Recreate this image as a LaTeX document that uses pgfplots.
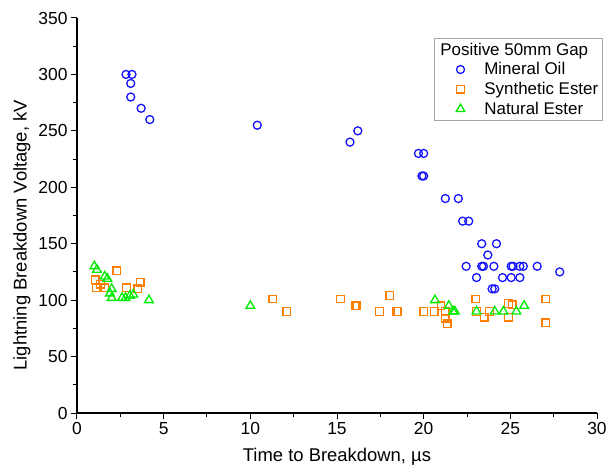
\documentclass[border=0pt]{standalone}
\usepackage{fontspec}
\setmainfont{Liberation Sans}
\usepackage{pgfplots}
\pgfplotsset{compat=1.18}
\definecolor{mblue}{RGB}{20,20,255}
\definecolor{sorange}{RGB}{255,128,0}
\definecolor{ngreen}{RGB}{0,235,0}
\begin{document}
\begin{tikzpicture}
\useasboundingbox (-77bp,-55bp) rectangle (531bp,413bp);
\begin{axis}[
  at={(0,0)}, anchor=south west,
  scale only axis, width=520bp, height=395bp,
  xmin=0, xmax=30, ymin=0, ymax=350,
  axis x line*=bottom, axis y line*=left,
  xtick={0,5,...,30}, ytick={0,50,...,350},
  minor x tick num=1, minor y tick num=1,
  tick align=outside, major tick length=6bp, minor tick length=4bp,
  tick style={black, line width=1bp},
  axis line style={black, line width=1.2bp},
  /pgf/number format/assume math mode=true,
  ticklabel style={font=\fontsize{17.5}{20}\selectfont},
  xlabel={Time to Breakdown, µs},
  ylabel={Lightning Breakdown Voltage, kV},
  label style={font=\fontsize{18.5}{22}\selectfont},
  xlabel style={at={(axis description cs:0.5,-0.1114)}, anchor=center},
  ylabel style={at={(axis description cs:-0.1058,0.45)}, anchor=center},
  legend style={at={(rel axis cs:0.6865,0.9494)}, anchor=north west,
    draw=gray!70, line width=0.8bp, fill=white,
    font=\fontsize{17}{20}\selectfont, inner xsep=3bp, inner ysep=3bp,
    row sep=3bp,
    nodes={inner sep=1.5bp},
    /tikz/every odd column/.append style={column sep=18bp}},
  legend cell align=left,
  legend image code/.code={\path (-14bp,0bp);
    \draw[mark repeat=2,mark phase=2,#1] plot coordinates {(0cm,0cm) (0.3cm,0cm) (0.6cm,0cm)};},
  every axis plot/.append style={line width=1.3bp},
]
\addlegendimage{empty legend}
\addlegendentry{\hspace{-44bp}Positive 50mm Gap}
\addplot[only marks, mark=o, mark size=4bp, draw=mblue] coordinates {
(2.83,300)(3.17,300)(3.1,292)(3.1,280)(3.7,270)(4.2,260)(10.4,255)
(15.75,240)(16.2,250)(19.7,230)(20.0,230)(19.9,210)(20.0,210)
(21.25,190)(22.0,190)(22.25,170)(22.6,170)(23.35,150)(24.2,150)(23.7,140)
(22.45,130)(23.35,130)(23.45,130)(24.05,130)(25.05,130)(25.15,130)(25.55,130)(25.75,130)(26.55,130)
(27.85,125)(23.05,120)(24.55,120)(25.05,120)(25.55,120)(23.95,110)(24.1,110)
};
\addlegendentry{Mineral Oil}
\addplot[only marks, mark=square, mark size=3.8bp, draw=sorange] coordinates {
(2.3,126)(1.05,118)(1.1,111)(1.35,114)(1.6,111)(2.85,111)(3.65,116)(3.5,110)
(11.3,101)(12.1,90)(15.2,101)(16.05,95)(16.15,95)(17.45,90)(18.05,104)(18.45,90)(18.5,90)
(20.0,90)(20.6,90)(21.0,95)(21.25,90)(21.25,84)(21.35,79)(23.0,101)(23.05,90)(23.5,85)(23.8,90)
(24.9,97)(25.1,96)(24.9,85)(27.05,101)(27.05,80)
};
\addlegendentry{Synthetic Ester}
\addplot[only marks, mark=triangle, mark size=5bp, draw=ngreen] coordinates {
(1.0,130)(1.15,127)(1.6,121)(1.75,119)(2.0,110)(1.9,106)(2.0,102)(2.6,102)(2.8,102)
(3.05,104)(3.25,105)(4.15,100)(10.0,95)(20.65,100)(21.45,95)(21.7,90)(21.8,90)
(23.05,90)(24.1,90)(24.6,90)(25.35,90)(25.8,95)
};
\addlegendentry{Natural Ester}
\end{axis}
\end{tikzpicture}
\end{document}
